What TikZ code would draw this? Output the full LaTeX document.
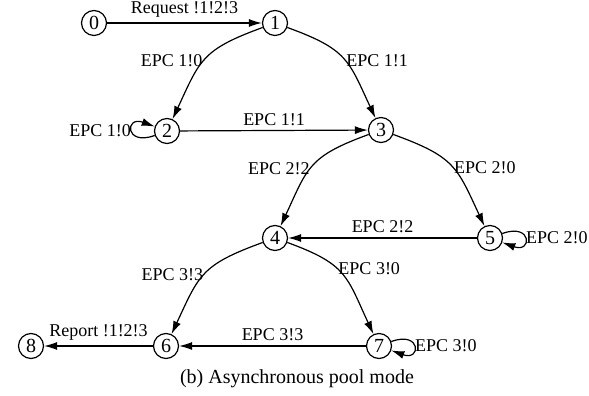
\documentclass[tikz,border=0pt]{standalone}
\usepackage{fontspec}
\setmainfont{Liberation Serif}
\usetikzlibrary{arrows.meta}
\begin{document}
\begin{tikzpicture}[x=0.5pt,y=0.5pt,
  state/.style={circle,draw,line width=0.6pt,minimum size=12.5pt,inner sep=0pt,
    font=\fontsize{10}{12}\selectfont},
  trans/.style={line width=0.6pt,-{Latex[length=6.5pt,width=4pt]}},
  lab/.style={font=\fontsize{9}{10}\selectfont,inner sep=2.3pt},
  clab/.style={font=\fontsize{9}{10}\selectfont,inner sep=0.3pt},
  downleft/.style={out=200,in=65,looseness=1.3},
  downright/.style={out=-20,in=115,looseness=1.3},
  selfloop/.style={looseness=1,min distance=16pt}]
\useasboundingbox (0,0) rectangle (589,396);

% states
\node[state] (s0) at (94,373) {0};
\node[state] (s1) at (275,373) {1};
\node[state] (s2) at (167,265) {2};
\node[state] (s3) at (381,266) {3};
\node[state] (s4) at (275,158) {4};
\node[state] (s5) at (490,158) {5};
\node[state] (s6) at (166,50) {6};
\node[state] (s7) at (379,50) {7};
\node[state] (s8) at (31,50) {8};

% transitions
\draw[trans] (s0) -- node[lab,above]{Request !1!2!3} (s1);
\draw[trans] (s1) to[downleft] node[clab,pos=0.52,anchor=east]{EPC 1!0} (s2);
\draw[trans] (s1) to[downright] node[clab,pos=0.52,anchor=west]{EPC 1!1} (s3);
\draw[trans] (s2) to[out=200,in=160,selfloop] node[clab,anchor=east]{EPC 1!0} (s2);
\draw[trans] (s2) -- node[lab,above]{EPC 1!1} (s3);

\draw[trans] (s3) to[downleft] node[clab,pos=0.52,anchor=east]{EPC 2!2} (s4);
\draw[trans] (s3) to[downright] node[clab,pos=0.52,anchor=west]{EPC 2!0} (s5);
\draw[trans] (s5) to[out=20,in=-20,selfloop] node[clab,anchor=west]{EPC 2!0} (s5);
\draw[trans] (s5) -- node[lab,above]{EPC 2!2} (s4);

\draw[trans] (s4) to[downleft] node[clab,pos=0.5,anchor=east]{EPC 3!3} (s6);
\draw[trans] (s4) to[downright] node[clab,pos=0.42,anchor=west]{EPC 3!0} (s7);
\draw[trans] (s7) to[out=20,in=-20,selfloop] node[clab,anchor=west]{EPC 3!0} (s7);
\draw[trans] (s7) -- node[lab,above]{EPC 3!3} (s6);
\draw[trans] (s6) -- node[lab,above]{Report !1!2!3} (s8);

% caption
\node[font=\fontsize{10}{12}\selectfont] (cap) at (297,17) {(b) Asynchronous pool mode};
\end{tikzpicture}
\end{document}
